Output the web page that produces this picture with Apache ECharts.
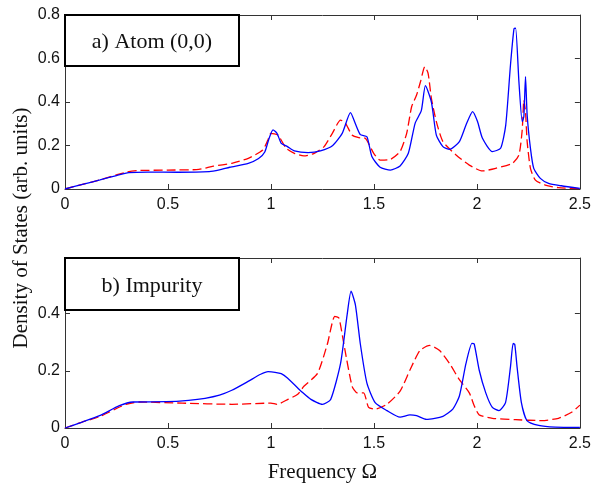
<!DOCTYPE html>
<html>
<head>
<meta charset="utf-8">
<script src="https://cdn.jsdelivr.net/npm/echarts@6/dist/echarts.min.js"></script>
<style>html,body{margin:0;padding:0;background:#fff}#c{width:594px;height:484px}</style>
</head>
<body>
<div id="c"></div>
<script>
// ---- Data ----
var xTicks = [0, 0.5, 1, 1.5, 2, 2.5];
var yTicksTop = [0, 0.2, 0.4, 0.6, 0.8];
var yTicksBottom = [0, 0.2, 0.4];

var topBlueF = [0,0.08,0.17,0.25,0.31,0.4,0.55,0.7,0.75,0.8,0.89,0.94,0.97,0.99,1.01,1.03,1.05,1.08,1.114,1.18,1.24,1.3,1.346,1.386,1.41,1.434,1.466,1.49,1.53,1.58,1.627,1.667,1.7,1.73,1.75,1.779,1.803,1.835,1.867,1.915,1.947,1.979,2.003,2.027,2.075,2.115,2.14,2.163,2.18,2.188,2.204,2.22,2.228,2.236,2.244,2.26,2.276,2.308,2.348,2.41,2.5];
var topBlueV = [0,0.02,0.042,0.062,0.075,0.078,0.077,0.08,0.088,0.1,0.118,0.14,0.17,0.23,0.272,0.255,0.21,0.195,0.175,0.167,0.175,0.2,0.256,0.351,0.3,0.25,0.24,0.149,0.1,0.087,0.106,0.164,0.302,0.36,0.475,0.4,0.248,0.195,0.182,0.218,0.294,0.356,0.31,0.233,0.172,0.187,0.294,0.57,0.736,0.739,0.493,0.31,0.333,0.516,0.34,0.187,0.095,0.049,0.026,0.015,0.003];

var topRedF = [0,0.08,0.17,0.25,0.3,0.36,0.5,0.65,0.72,0.81,0.89,0.96,0.985,1.0,1.034,1.074,1.114,1.16,1.21,1.258,1.298,1.338,1.362,1.394,1.426,1.458,1.499,1.53,1.58,1.627,1.659,1.683,1.707,1.726,1.747,1.763,1.779,1.803,1.835,1.899,1.963,2.027,2.091,2.172,2.204,2.22,2.228,2.236,2.244,2.26,2.284,2.332,2.396,2.5];
var topRedV = [0,0.02,0.042,0.065,0.078,0.085,0.087,0.09,0.105,0.118,0.141,0.179,0.225,0.256,0.248,0.187,0.164,0.152,0.164,0.195,0.256,0.317,0.302,0.248,0.236,0.233,0.164,0.133,0.136,0.172,0.256,0.378,0.432,0.493,0.562,0.532,0.417,0.31,0.218,0.156,0.11,0.083,0.095,0.118,0.156,0.271,0.409,0.355,0.218,0.095,0.041,0.018,0.006,0.002];

var botBlueF = [0,0.08,0.168,0.264,0.33,0.49,0.6,0.68,0.75,0.81,0.889,0.95,0.986,1.02,1.05,1.08,1.13,1.146,1.194,1.25,1.29,1.338,1.37,1.389,1.41,1.434,1.466,1.506,1.563,1.627,1.675,1.707,1.755,1.835,1.883,1.915,1.947,1.976,1.987,2.011,2.043,2.075,2.107,2.139,2.163,2.176,2.184,2.195,2.216,2.243,2.3,2.38,2.5];
var botBlueV = [0,0.02,0.043,0.078,0.091,0.092,0.097,0.104,0.115,0.132,0.163,0.188,0.197,0.195,0.19,0.175,0.14,0.129,0.1,0.083,0.1,0.226,0.397,0.479,0.431,0.294,0.157,0.089,0.061,0.038,0.046,0.043,0.03,0.041,0.066,0.112,0.226,0.296,0.294,0.203,0.123,0.072,0.061,0.089,0.214,0.296,0.292,0.214,0.089,0.026,0.009,0.003,0.002];

var botRedF = [0,0.08,0.168,0.296,0.36,0.569,0.81,1.0,1.03,1.082,1.13,1.16,1.226,1.274,1.31,1.33,1.354,1.394,1.418,1.45,1.474,1.506,1.563,1.627,1.675,1.723,1.771,1.819,1.867,1.915,1.963,1.987,2.011,2.075,2.188,2.316,2.396,2.46,2.5];
var botRedV = [0,0.02,0.04,0.083,0.091,0.087,0.083,0.087,0.083,0.1,0.118,0.146,0.191,0.294,0.391,0.385,0.294,0.146,0.123,0.123,0.072,0.066,0.083,0.129,0.203,0.271,0.289,0.271,0.226,0.169,0.123,0.078,0.046,0.034,0.029,0.026,0.034,0.055,0.08];

function pairs(f, v) { return f.map(function (x, i) { return [x, v[i]]; }); }

var frameColor = '#333';
var tickFont = { fontFamily: 'Liberation Sans', fontSize: 16, color: '#111' };

function xAx(gi, pos, labels) {
  return {
    type: 'value', gridIndex: gi, position: pos, min: 0, max: 2.5, interval: 0.5,
    axisLine: { show: true, onZero: false, lineStyle: { color: frameColor, width: 1 } },
    axisTick: { show: true, inside: true, length: 5, lineStyle: { color: frameColor } },
    axisLabel: labels ? Object.assign({ show: true, margin: 8 }, tickFont) : { show: false },
    splitLine: { show: false }
  };
}
function yAx(gi, pos, max, labels, showMax) {
  return {
    type: 'value', gridIndex: gi, position: pos, min: 0, max: max, interval: 0.2,
    axisLine: { show: true, onZero: false, lineStyle: { color: frameColor, width: 1 } },
    axisTick: { show: true, inside: true, length: 5, lineStyle: { color: frameColor } },
    axisLabel: labels ? Object.assign({ show: true, margin: 5, showMaxLabel: showMax }, tickFont) : { show: false },
    splitLine: { show: false }
  };
}

var blueStyle = { color: '#0000ff', width: 1.3, type: 'solid' };
var redStyle = { color: '#ff0000', width: 1.3, type: [9, 4] };

var chart = echarts.init(document.getElementById('c'), null, { renderer: 'canvas' });
chart.setOption({
  backgroundColor: '#fff',
  animation: false,
  grid: [
    { left: 65, top: 15, width: 520, height: 174 },
    { left: 65, top: 258, width: 520, height: 175 }
  ],
  xAxis: [
    xAx(0, 'bottom', true), xAx(0, 'top', false),
    Object.assign(xAx(1, 'bottom', true), {
      name: 'Frequency Ω', nameLocation: 'middle', nameGap: 34,
      nameTextStyle: { fontFamily: 'Liberation Serif', fontSize: 21, color: '#111' }
    }),
    xAx(1, 'top', false)
  ],
  yAxis: [
    yAx(0, 'left', 0.8, true, true), yAx(0, 'right', 0.8, false, true),
    yAx(1, 'left', 0.595, true, false), yAx(1, 'right', 0.595, false, false)
  ],
  series: [
    { type: 'line', xAxisIndex: 0, yAxisIndex: 0, data: pairs(topRedF, topRedV), showSymbol: false, smooth: 0.2, lineStyle: redStyle, z: 2 },
    { type: 'line', xAxisIndex: 0, yAxisIndex: 0, data: pairs(topBlueF, topBlueV), showSymbol: false, smooth: 0.2, lineStyle: blueStyle, z: 3 },
    { type: 'line', xAxisIndex: 2, yAxisIndex: 2, data: pairs(botRedF, botRedV), showSymbol: false, smooth: 0.2, lineStyle: redStyle, z: 2 },
    { type: 'line', xAxisIndex: 2, yAxisIndex: 2, data: pairs(botBlueF, botBlueV), showSymbol: false, smooth: 0.2, lineStyle: blueStyle, z: 3 }
  ],
  graphic: [
    { type: 'rect', z: 100, shape: { x: 65, y: 15, width: 174, height: 51 }, style: { fill: '#fff', stroke: '#000', lineWidth: 2 } },
    { type: 'text', z: 101, x: 152, y: 42, style: { text: 'a) Atom (0,0)', font: '22px "Liberation Serif"', fill: '#111', textAlign: 'center', textVerticalAlign: 'middle' } },
    { type: 'rect', z: 100, shape: { x: 65, y: 258, width: 174, height: 52 }, style: { fill: '#fff', stroke: '#000', lineWidth: 2 } },
    { type: 'text', z: 101, x: 152, y: 286, style: { text: 'b) Impurity', font: '22px "Liberation Serif"', fill: '#111', textAlign: 'center', textVerticalAlign: 'middle' } },
    { type: 'text', z: 101, x: 21, y: 228, rotation: Math.PI / 2, style: { text: 'Density of States (arb. units)', font: '21px "Liberation Serif"', fill: '#111', textAlign: 'center', textVerticalAlign: 'middle' } }
  ]
});
</script>
</body>
</html>
